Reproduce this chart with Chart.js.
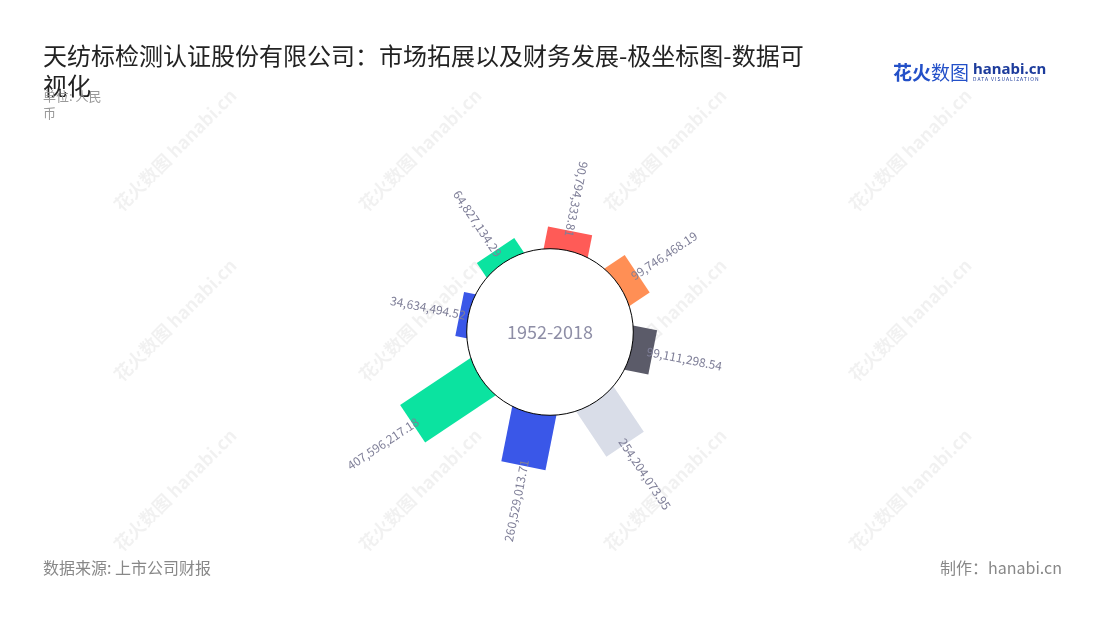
<!DOCTYPE html>
<html>
<head>
<meta charset="utf-8">
<title>极坐标图</title>
<script src="https://cdn.jsdelivr.net/npm/chart.js@4.4.0/dist/chart.umd.min.js"></script>
<style>
    html, body {
        margin: 0;
        padding: 0;
        background: #fff;
    }
    body {
        position: relative;
        width: 1100px;
        height: 620px;
        overflow: hidden;
        font-family: "Noto Sans CJK SC", "Noto Sans", sans-serif;
    }
    #polarCanvas {
        position: absolute;
        left: 0;
        top: 0;
    }
    .title {
        position: absolute;
        left: 43px;
        top: 40px;
        font-size: 24px;
        line-height: 30px;
        color: #222;
        white-space: nowrap;
    }
    .unit {
        position: absolute;
        left: 43px;
        top: 87px;
        font-size: 13px;
        line-height: 17px;
        color: #999;
    }
    .source, .maker {
        position: absolute;
        top: 555px;
        font-size: 16px;
        line-height: 24px;
        color: #888;
    }
    .source { left: 43px; }
    .maker { right: 38px; }
    .logo {
        position: absolute;
        left: 893px;
        top: 58px;
        white-space: nowrap;
    }
    .logo .cn {
        font-size: 19px;
        font-weight: bold;
        color: #2350c8;
        vertical-align: top;
    }
    .logo .cn span {
        font-weight: normal;
    }
    .logo .en {
        display: inline-block;
        margin-left: 4px;
        vertical-align: top;
        color: #1d3c9c;
    }
    .logo .en b {
        display: block;
        font-family: "Noto Sans", sans-serif;
        font-size: 15px;
        line-height: 16px;
        margin-top: 2px;
    }
    .logo .en i {
        display: block;
        font-style: normal;
        font-size: 5px;
        line-height: 6px;
        letter-spacing: 1px;
    }
</style>
</head>
<body>
<canvas id="polarCanvas" width="1100" height="620"></canvas>
<div class="title">天纺标检测认证股份有限公司：市场拓展以及财务发展-极坐标图-数据可<br>视化</div>
<div class="unit">单位: 人民<br>币</div>
<div class="logo"><span class="cn">花火<span>数图</span></span><span class="en"><b>hanabi.cn</b><i>DATA VISUALIZATION</i></span></div>
<div class="source">数据来源: 上市公司财报</div>
<div class="maker">制作：hanabi.cn</div>

<script>
// 数据
var years = ["2011", "2012", "2013", "2014", "2015", "2016", "2017", "2018"];
var revenue = [34634494.52, 64827134.29, 90794333.81, 99746468.19, 99111298.54, 254204073.95, 260529013.71, 407596217.18];
var barColors = ["#3a57e8", "#0be3a0", "#ff5b57", "#ff8f55", "#5b5b69", "#d9dde8"];
var centerText = "1952-2018";

// 水印
var watermark = {
    id: "watermark",
    beforeDraw: function (chart) {
        var ctx = chart.ctx;
        var xs = [175, 420, 665, 910];
        var ys = [150, 320, 490];
        ctx.save();
        ctx.fillStyle = "rgba(0,0,0,0.055)";
        ctx.font = "bold 18px 'Noto Sans CJK SC'";
        ctx.textAlign = "center";
        ctx.textBaseline = "middle";
        for (var i = 0; i < xs.length; i++) {
            for (var j = 0; j < ys.length; j++) {
                ctx.save();
                ctx.translate(xs[i], ys[j]);
                ctx.rotate(-Math.PI / 4);
                ctx.fillText("花火数图 hanabi.cn", 0, 0);
                ctx.restore();
            }
        }
        ctx.restore();
    }
};

// 用矩形代替扇形
var radialBars = {
    id: "radialBars",
    beforeDatasetDraw: function (chart, args) {
        var ctx = chart.ctx;
        var meta = args.meta;
        var scale = chart.scales.r;
        var cx = scale.xCenter, cy = scale.yCenter;
        var barWidth = 45;

        ctx.save();
        meta.data.forEach(function (arc, i) {
            var mid = (arc.startAngle + arc.endAngle) / 2;
            ctx.save();
            ctx.translate(arc.x, arc.y);
            ctx.rotate(mid);
            ctx.fillStyle = barColors[i % barColors.length];
            ctx.fillRect(0, -barWidth / 2, arc.outerRadius, barWidth);
            ctx.restore();
        });

        // 中间的圆
        var hole = scale.getDistanceFromCenterForValue(0) - 2;
        ctx.beginPath();
        ctx.arc(cx, cy, hole, 0, Math.PI * 2);
        ctx.fillStyle = "#fff";
        ctx.fill();
        ctx.lineWidth = 1;
        ctx.strokeStyle = "#000";
        ctx.stroke();

        ctx.fillStyle = "#8e8ea6";
        ctx.font = "18px 'Noto Sans CJK SC'";
        ctx.textAlign = "center";
        ctx.textBaseline = "middle";
        ctx.fillText(centerText, cx, cy);

        // 数值标签
        ctx.font = "12px 'Noto Sans CJK SC'";
        ctx.fillStyle = "#7f7f98";
        meta.data.forEach(function (arc, i) {
            var mid = (arc.startAngle + arc.endAngle) / 2;
            var deg = (mid * 180 / Math.PI + 90 + 720) % 360;
            var r = arc.outerRadius - 6;
            var text = revenue[i].toLocaleString("en-US", {minimumFractionDigits: 2, maximumFractionDigits: 2});
            ctx.save();
            ctx.translate(arc.x, arc.y);
            if (deg > 20 && deg < 180) {
                ctx.rotate(mid);
                ctx.textAlign = "left";
                ctx.fillText(text, r, 0);
            } else {
                ctx.rotate(mid + Math.PI);
                ctx.textAlign = "right";
                ctx.fillText(text, -r, 0);
            }
            ctx.restore();
        });
        ctx.restore();
        return false;
    }
};

var ctx = document.getElementById("polarCanvas");
var polarChart = new Chart(ctx, {
    type: "polarArea",
    data: {
        labels: years,
        datasets: [{
            data: revenue,
            backgroundColor: barColors,
            borderWidth: 0
        }]
    },
    options: {
        responsive: false,
        animation: false,
        layout: {
            padding: { top: 132, bottom: 88, left: 0, right: 0 }
        },
        scales: {
            r: {
                min: -435000000,
                max: 585000000,
                startAngle: 258.75,
                grid: { display: false },
                angleLines: { display: false },
                ticks: { display: false },
                pointLabels: { display: false }
            }
        },
        plugins: {
            legend: { display: false },
            tooltip: { enabled: true }
        }
    },
    plugins: [watermark, radialBars]
});
</script>
</body>
</html>
